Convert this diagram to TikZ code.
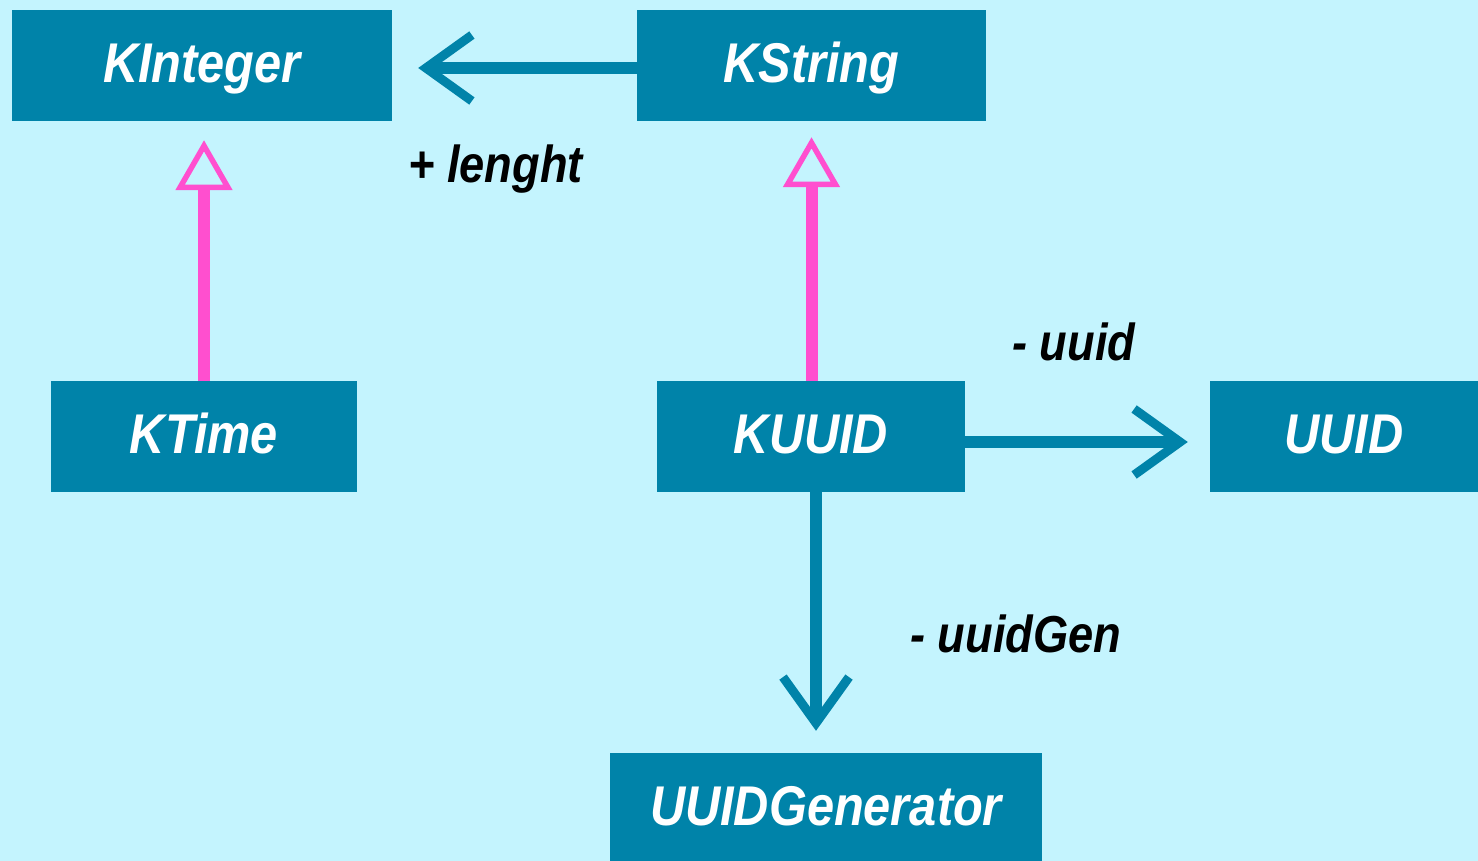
\documentclass[tikz,border=0pt]{standalone}
\usepackage{fontspec}
\newfontfamily\dfont[FakeStretch=0.87]{Liberation Sans}
\usetikzlibrary{arrows.meta}
\definecolor{boxc}{HTML}{0083A9}
\definecolor{bgc}{HTML}{C4F4FE}
\definecolor{pinkc}{HTML}{FF4FCF}
\tikzset{
  cls/.style={fill=boxc, draw=none, inner sep=0pt, minimum height=111pt, text=white,
    text height=40pt, text depth=6pt,
    font=\dfont\bfseries\itshape\fontsize{56}{60}\selectfont},
  lbl/.style={inner sep=0pt, text=black, font=\dfont\bfseries\itshape\fontsize{52}{56}\selectfont},
  assoc/.style={draw=boxc, line width=12pt,
    -{Straight Barb[length=46pt,width=66pt,line width=9pt]}},
  inherit/.style={draw=pinkc, line width=12pt,
    -{Triangle[open,length=50pt,width=56pt,line width=5.5pt,fill=bgc]}}
}
\begin{document}
\begin{tikzpicture}[x=1pt,y=-1pt]
\useasboundingbox (0,0) rectangle (1478,861);
\fill[bgc] (0,0) rectangle (1478,861);

\node[cls, minimum width=380pt] (kint) at (202,65.5) {KInteger};
\node[cls, minimum width=349pt] (kstr) at (811.5,65.5) {KString};
\node[cls, minimum width=306pt] (ktime) at (204,436.5) {KTime};
\node[cls, minimum width=308pt] (kuuid) at (811,436.5) {KUUID};
\node[cls, minimum width=268pt] (uuid) at (1344,436.5) {UUID};
\node[cls, minimum width=432pt] (gen) at (826,808.5) {UUIDGenerator};

\node[lbl, anchor=base west] (llen) at (408,183) {+ lenght};
\node[lbl, anchor=base west] (luuid) at (1012,360) {- uuid};
\node[lbl, anchor=base west] (lgen) at (910,652) {- uuidGen};

\draw[assoc, shorten >=26pt] ([yshift=-2.5pt]kstr.west) -- ([yshift=-2.5pt]kint.east);
\draw[inherit, shorten >=19pt] (ktime.north) -- (ktime.north |- kint.south);
\draw[inherit, shorten >=16pt] ([xshift=0.5pt]kuuid.north) -- ([xshift=0.5pt]kuuid.north |- kstr.south);
\draw[assoc, shorten >=22pt] ([yshift=-5.5pt]kuuid.east) -- ([yshift=-5.5pt]kuuid.east -| uuid.west);
\draw[assoc, shorten >=22pt] ([xshift=5pt]kuuid.south) -- ([xshift=5pt]kuuid.south |- gen.north);
\end{tikzpicture}
\end{document}
